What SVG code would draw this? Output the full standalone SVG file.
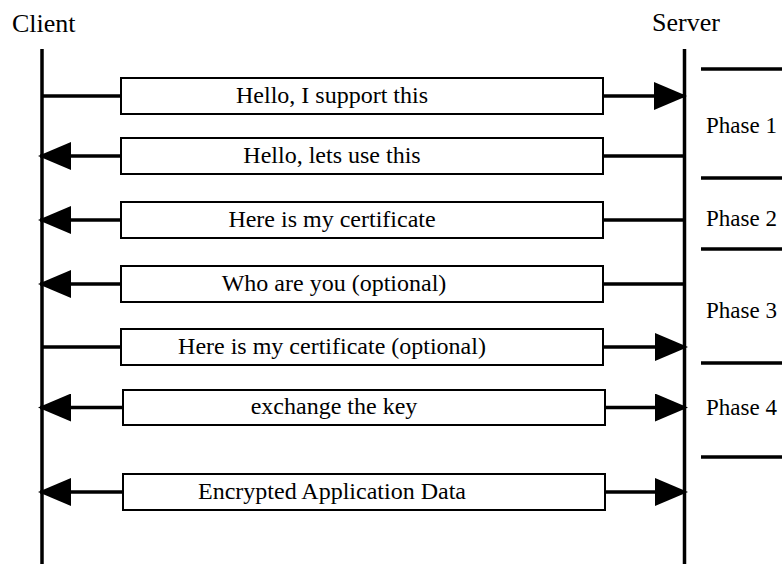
<svg xmlns="http://www.w3.org/2000/svg" width="782" height="564" viewBox="0 0 782 564">
<style>
  text { font-family: "Liberation Serif", "Times New Roman", serif; fill: #000; }
  .head { font-size: 26px; }
  .msg { font-size: 24px; text-anchor: middle; }
  .phase { font-size: 23px; }
  .box { fill: #fff; stroke: #000; stroke-width: 2; }
  .life { stroke: #000; stroke-width: 3.5; fill: none; }
  .conn { stroke: #000; stroke-width: 3.5; fill: none; }
  .sep { stroke: #000; stroke-width: 3.5; }
</style>
<defs>
  <marker id="ah" markerUnits="userSpaceOnUse" markerWidth="33" markerHeight="28" viewBox="0 0 33 28" refX="31" refY="14" orient="auto">
    <path d="M0,0 L33,14 L0,28 z" fill="#000"/>
  </marker>
</defs>
<rect width="782" height="564" fill="#fff"/>

<g id="client">
  <text class="head" x="12" y="32">Client</text>
  <line class="life" x1="42" y1="49" x2="42" y2="564"/>
</g>
<g id="server">
  <text class="head" x="652" y="31">Server</text>
  <line class="life" x1="684.5" y1="49" x2="684.5" y2="564"/>
</g>

<g id="connectors">
  <line class="conn" x1="42" y1="96" x2="121" y2="96"/>
  <line class="conn" x1="603" y1="96" x2="685" y2="96" marker-end="url(#ah)"/>

  <line class="conn" x1="684" y1="156" x2="603" y2="156"/>
  <line class="conn" x1="121" y1="156" x2="40" y2="156" marker-end="url(#ah)"/>

  <line class="conn" x1="684" y1="220" x2="603" y2="220"/>
  <line class="conn" x1="121" y1="220" x2="40" y2="220" marker-end="url(#ah)"/>

  <line class="conn" x1="684" y1="284" x2="603" y2="284"/>
  <line class="conn" x1="121" y1="284" x2="40" y2="284" marker-end="url(#ah)"/>

  <line class="conn" x1="42" y1="347" x2="121" y2="347"/>
  <line class="conn" x1="603" y1="347" x2="686" y2="347" marker-end="url(#ah)"/>

  <line class="conn" x1="123" y1="407.5" x2="40" y2="407.5" marker-end="url(#ah)"/>
  <line class="conn" x1="605" y1="407.5" x2="686" y2="407.5" marker-end="url(#ah)"/>

  <line class="conn" x1="123" y1="492" x2="40" y2="492" marker-end="url(#ah)"/>
  <line class="conn" x1="605" y1="492" x2="686" y2="492" marker-end="url(#ah)"/>
</g>

<g id="msg1">
  <rect class="box" x="121" y="78" width="482" height="36"/>
  <text class="msg" x="332" y="103">Hello, I support this</text>
</g>
<g id="msg2">
  <rect class="box" x="121" y="138" width="482" height="36"/>
  <text class="msg" x="332" y="163">Hello, lets use this</text>
</g>
<g id="msg3">
  <rect class="box" x="121" y="202" width="482" height="36"/>
  <text class="msg" x="332" y="227">Here is my certificate</text>
</g>
<g id="msg4">
  <rect class="box" x="121" y="266" width="482" height="36"/>
  <text class="msg" x="334" y="291">Who are you (optional)</text>
</g>
<g id="msg5">
  <rect class="box" x="121" y="329" width="482" height="36"/>
  <text class="msg" x="332" y="354">Here is my certificate (optional)</text>
</g>
<g id="msg6">
  <rect class="box" x="123" y="390" width="482" height="35"/>
  <text class="msg" x="334" y="414">exchange the key</text>
</g>
<g id="msg7">
  <rect class="box" x="123" y="474" width="482" height="36"/>
  <text class="msg" x="332" y="499">Encrypted Application Data</text>
</g>

<g id="phases">
  <line class="sep" x1="701" y1="69" x2="782" y2="69"/>
  <line class="sep" x1="701" y1="178" x2="782" y2="178"/>
  <line class="sep" x1="701" y1="249" x2="782" y2="249"/>
  <line class="sep" x1="701" y1="363" x2="782" y2="363"/>
  <line class="sep" x1="701" y1="457" x2="782" y2="457"/>
  <text class="phase" x="706" y="133">Phase 1</text>
  <text class="phase" x="706" y="226">Phase 2</text>
  <text class="phase" x="706" y="318">Phase 3</text>
  <text class="phase" x="706" y="415">Phase 4</text>
</g>
</svg>
